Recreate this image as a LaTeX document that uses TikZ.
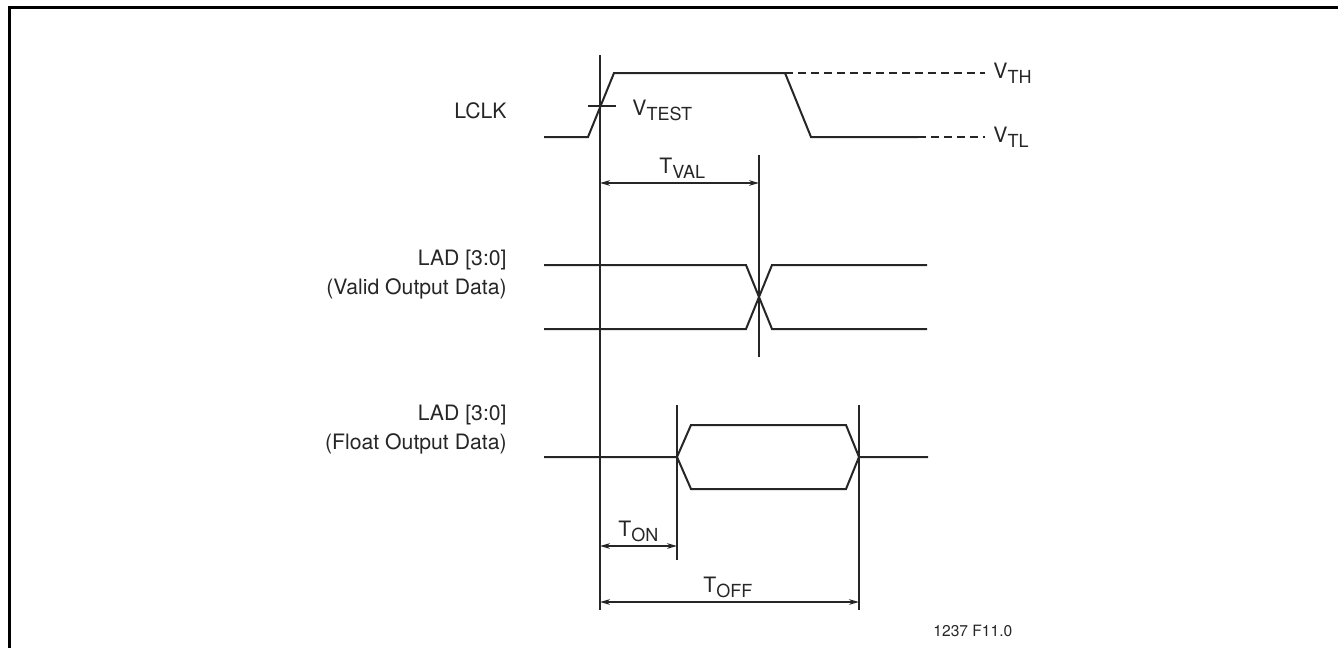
\documentclass[tikz,border=0pt]{standalone}
\usepackage{fontspec}
\setmainfont{TeX Gyre Heros}
\usetikzlibrary{arrows.meta}
\newcommand{\subtx}[1]{\raisebox{-2.5pt}{\fontsize{9}{10}\selectfont #1}}
\begin{document}
\begin{tikzpicture}[x=0.5pt,y=-0.5pt,
  wave/.style={line width=1pt, line join=miter, draw=black!85},
  guide/.style={line width=0.7pt, draw=black!85},
  dashline/.style={line width=0.7pt, draw=black!85, dash pattern=on 4pt off 2.5pt},
  dimline/.style={line width=0.75pt, draw=black!85, {Stealth[length=5pt,width=2.8pt]}-{Stealth[length=5pt,width=2.8pt]}},
  lbl/.style={inner sep=0pt, text=black!85, font=\fontsize{10.6}{14.2}\selectfont},
  small/.style={inner sep=0pt, text=black!85, font=\fontsize{7.8}{9}\selectfont}]
\useasboundingbox (0,0) rectangle (1338,648);
\coordinate (bl) at (9,648); \coordinate (tl) at (9,7); \coordinate (tr) at (1338,7);
\draw[line width=1.5pt] (bl) -- (tl) -- (tr);

% guide lines
\coordinate (g0t) at (600,55);  \coordinate (g0b) at (600,610);
\coordinate (g1t) at (759,155); \coordinate (g1b) at (759,357);
\coordinate (g2t) at (677,405); \coordinate (g2b) at (677,560);
\coordinate (g3t) at (859,405); \coordinate (g3b) at (859,610);
\draw[guide] (g0t) -- (g0b);
\draw[guide] (g1t) -- (g1b);
\draw[guide] (g2t) -- (g2b);
\draw[guide] (g3t) -- (g3b);

% LCLK
\draw[wave] (544,137) -- (588,137) -- (614,73) -- (785,73) -- (811,137) -- (918,137);
\draw[dashline] (785,73) -- (985,73);
\draw[dashline] (918,137) -- (985,137);
\coordinate (tk1) at (588,106); \coordinate (tk2) at (616,106);
\draw[guide] (tk1) -- (tk2);

% Valid output data
\draw[wave] (544,265) -- (746,265) -- (772,329) -- (927,329);
\draw[wave] (544,329) -- (746,329) -- (772,265) -- (927,265);

% Float output data
\draw[wave] (544,457) -- (677,457) -- (691,425) -- (846,425) -- (859,457) -- (928,457);
\draw[wave] (677,457) -- (691,489) -- (846,489) -- (859,457);

% dimensions
\coordinate (va) at (600,183); \coordinate (vb) at (759,183);
\coordinate (oa) at (600,546); \coordinate (ob) at (677,546);
\coordinate (fa) at (600,602); \coordinate (fb) at (859,602);
\draw[dimline] (va) -- (vb);
\draw[dimline] (oa) -- (ob);
\draw[dimline] (fa) -- (fb);

% labels
\node[lbl, anchor=base east] (lclk) at (507,118) {LCLK};
\node[lbl, anchor=base east, align=right] (lad1) at (507,294) {LAD [3:0]\\(Valid Output Data)};
\node[lbl, anchor=base east, align=right] (lad2) at (507,449) {LAD [3:0]\\(Float Output Data)};
\node[lbl, anchor=base west] (vtest) at (632,115) {V\subtx{TEST}};
\node[lbl, anchor=base west] (vth) at (993,78) {V\subtx{TH}};
\node[lbl, anchor=base west] (vtl) at (993,142) {V\subtx{TL}};
\node[lbl, anchor=base west] (tval) at (659,173) {T\subtx{VAL}};
\node[lbl, anchor=base west] (ton) at (618,536) {T\subtx{ON}};
\node[lbl, anchor=base west] (toff) at (703,592) {T\subtx{OFF}};
\node[small, anchor=base west] (fig) at (933,636) {1237 F11.0};
\end{tikzpicture}
\end{document}
